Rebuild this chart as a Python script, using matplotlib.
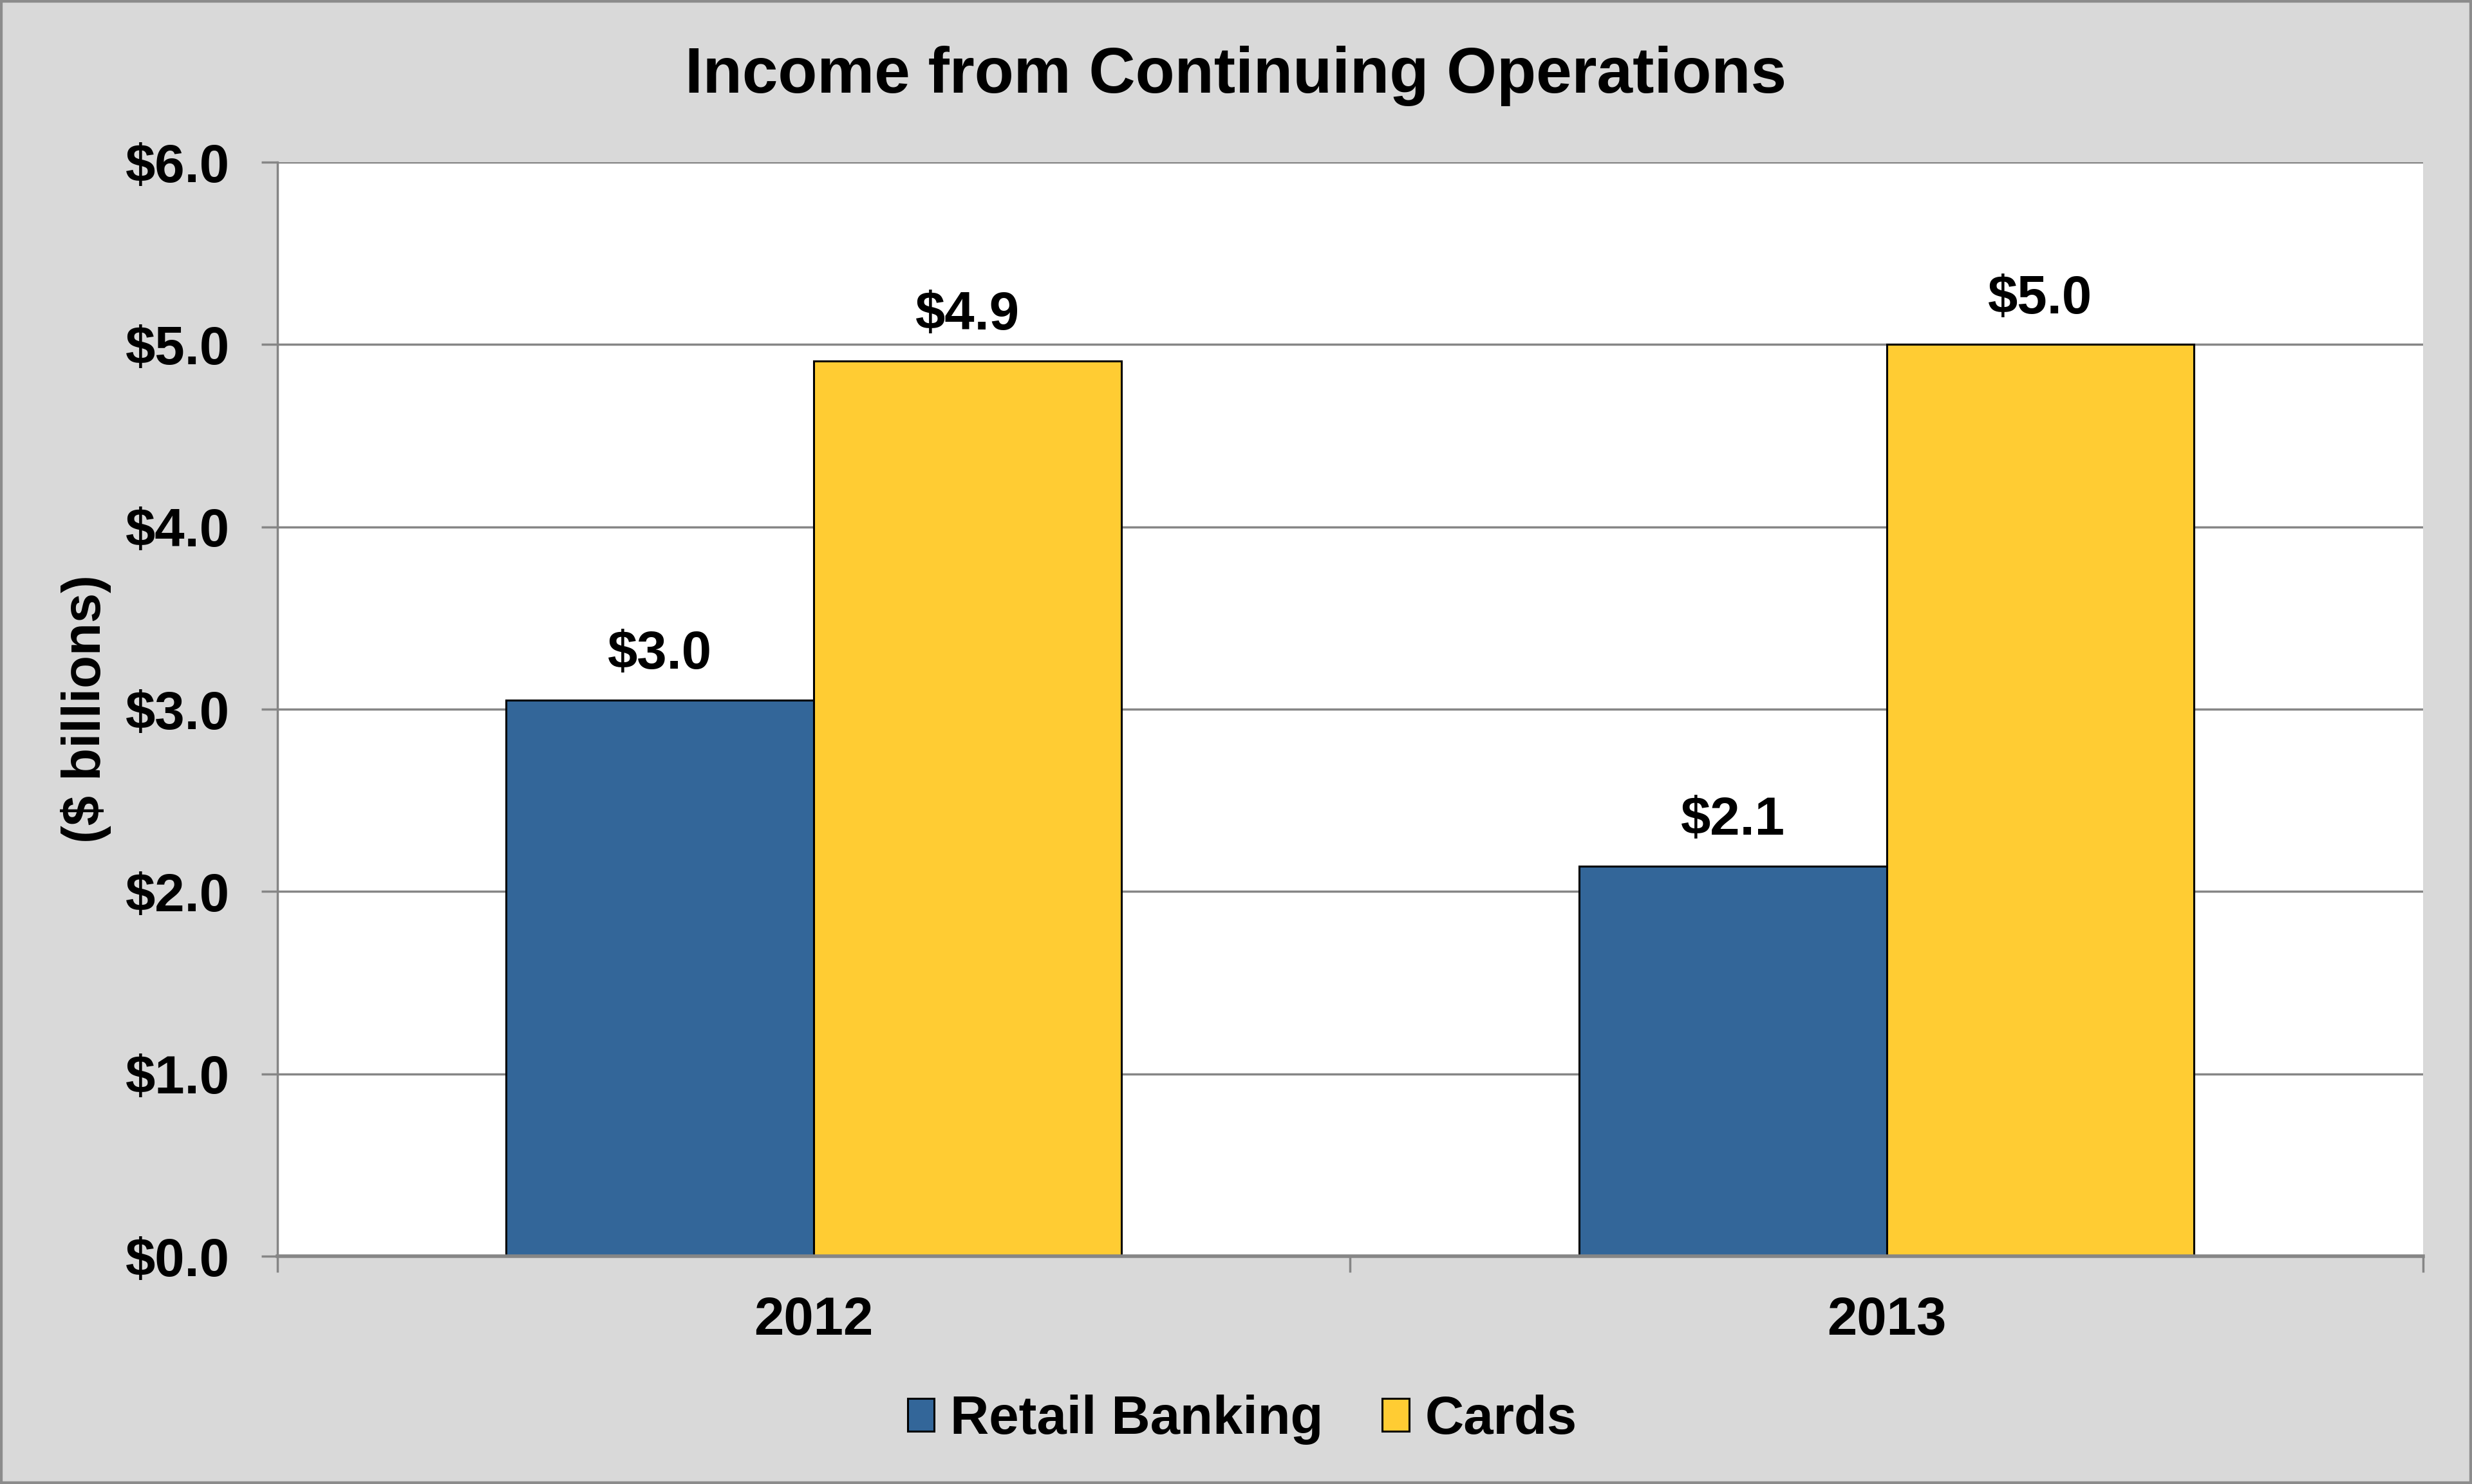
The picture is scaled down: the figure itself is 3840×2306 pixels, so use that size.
import matplotlib.pyplot as plt
import numpy as np
from matplotlib.patches import Rectangle

# datos
years = ['2012', '2013']
retail = [3.05, 2.14]
cards = [4.91, 5.00]
retail_labels = ['$3.0', '$2.1']
cards_labels = ['$4.9', '$5.0']
y_ticks = [0, 1, 2, 3, 4, 5, 6]

plt.rcParams['font.family'] = ['Liberation Sans', 'DejaVu Sans']
plt.rcParams['font.weight'] = 'bold'

fig = plt.figure(figsize=(38.4, 23.06), dpi=100)
fig.patch.set_facecolor('#d9d9d9')
ax = fig.add_axes([0.1122, 0.1535, 0.8680, 0.7372])
ax.set_facecolor('white')

x = np.arange(len(years))
w = 0.2866
b1 = ax.bar(x - w/2, retail, w, color='#336699', edgecolor='black', linewidth=2.2,
            label='Retail Banking', zorder=3)
b2 = ax.bar(x + w/2, cards, w, color='#ffcc33', edgecolor='black', linewidth=2.2,
            label='Cards', zorder=3)

for bars, labs in [(b1, retail_labels), (b2, cards_labels)]:
    for r, lab in zip(bars, labs):
        ax.annotate(lab, (r.get_x() + r.get_width()/2, r.get_height()),
                    xytext=(0, 51), textcoords='offset points',
                    ha='center', va='center', fontsize=60, fontweight='bold')

ax.set_xlim(-0.5, 1.5)
ax.set_ylim(0, 6)
ax.set_yticks(y_ticks)
ax.set_yticklabels(['$%.1f' % v for v in y_ticks])
ax.yaxis.grid(True, color='#868686', linewidth=2.5, zorder=0)
ax.set_axisbelow(True)

# ticks de categorias en los bordes, etiquetas en el centro
ax.set_xticks([-0.5, 0.5, 1.5])
ax.set_xticklabels(['', '', ''])
ax.set_xticks(x, minor=True)
ax.set_xticklabels(years, minor=True)
ax.tick_params(axis='x', which='major', length=18, width=2.5, color='#868686', direction='out')
ax.tick_params(axis='x', which='minor', length=0, pad=44, labelsize=60)
ax.tick_params(axis='y', length=18, width=2.5, color='#868686', pad=35, labelsize=60)

for s in ['top', 'right']:
    ax.spines[s].set_visible(False)
ax.spines['left'].set_color('#868686')
ax.spines['left'].set_linewidth(2.5)
ax.spines['bottom'].set_color('#868686')
ax.spines['bottom'].set_linewidth(4)
ax.spines['bottom'].set_zorder(4)

ax.set_ylabel('($ billions)', fontsize=60, fontweight='bold')
ax.yaxis.set_label_coords(-0.0774, 0.5)

fig.text(0.5, 0.949, 'Income from Continuing Operations', ha='center', va='center',
         fontsize=72, fontweight='bold')

leg = fig.legend(loc='center', bbox_to_anchor=(0.5026, 0.0434), ncol=2, frameon=False,
                 fontsize=60, handlelength=0.5, handleheight=0.55, handletextpad=0.3,
                 columnspacing=1.1)

fig.add_artist(Rectangle((0, 0), 1, 1, transform=fig.transFigure, fill=False,
                         edgecolor='#8c8c8c', linewidth=6, clip_on=False))

fig.savefig('out.png', dpi=100, facecolor=fig.get_facecolor())
